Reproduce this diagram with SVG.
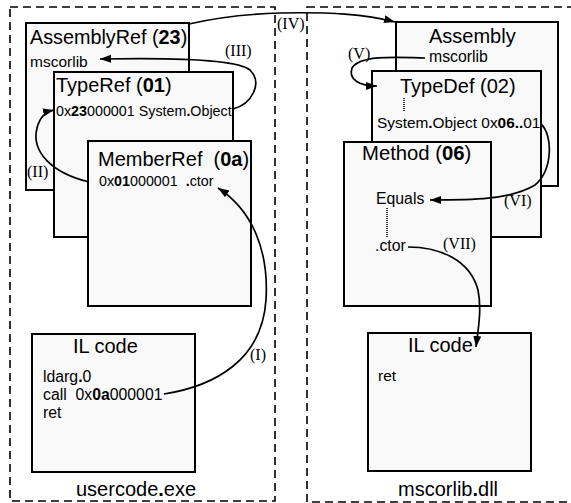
<svg xmlns="http://www.w3.org/2000/svg" width="571" height="503" viewBox="0 0 571 503">
  <defs>
    <marker id="arrow" markerUnits="userSpaceOnUse" markerWidth="12" markerHeight="10" refX="11" refY="4" orient="auto">
      <path d="M0,0 L11,4 L0,8 Z" fill="#000"/>
    </marker>
    <style>
      .module { fill: none; stroke: #000; stroke-width: 1.6; stroke-dasharray: 8 5; }
      .box { fill: #f9f9f9; stroke: #000; stroke-width: 2; }
      text { font-family: "Liberation Sans", Arial, sans-serif; fill: #000; white-space: pre; }
      .title { font-size: 20px; }
      .body { font-size: 15px; }
      .lbl { font-family: "Liberation Serif", "Times New Roman", serif; font-size: 16px; }
      .link { fill: none; stroke: #000; stroke-width: 1.7; marker-end: url(#arrow); }
      .dots { fill: none; stroke: #000; stroke-width: 1.6; stroke-dasharray: 1 1; }
      .b { font-weight: bold; }
    </style>
  </defs>

  <rect width="571" height="503" fill="#fff"/>

  <!-- module frames -->
  <g id="usercode-exe">
    <rect class="module" x="10" y="7" width="265" height="494"/>
    <text class="title" x="76" y="496">usercode<tspan class="b">.</tspan>exe</text>
  </g>
  <g id="mscorlib-dll">
    <rect class="module" x="307" y="7" width="266" height="495"/>
    <text class="title" x="398" y="496">mscorlib<tspan class="b">.</tspan>dll</text>
  </g>

  <!-- usercode.exe metadata tables -->
  <g id="assemblyref">
    <rect class="box" x="26" y="23" width="163" height="167"/>
    <text x="30" y="44" style="font-size:19.8px">AssemblyRef (<tspan class="b">23</tspan>)</text>
    <text class="body" x="30" y="67" style="font-size:15.5px">mscorlib</text>
  </g>
  <g id="typeref">
    <rect class="box" x="54" y="72" width="179" height="165"/>
    <text class="title" x="56" y="92">TypeRef (<tspan class="b">01</tspan>)</text>
    <text class="body" x="56" y="116" style="font-size:14.3px">0x<tspan class="b">23</tspan>000001 System<tspan class="b">.</tspan>Object</text>
  </g>
  <g id="memberref">
    <rect class="box" x="88" y="141" width="163" height="165"/>
    <text class="title" x="98" y="166">MemberRef&#160; (<tspan class="b">0a</tspan>)</text>
    <text class="body" x="99" y="186" style="font-size:14.3px">0x<tspan class="b">01</tspan>000001&#160; <tspan class="b">.</tspan>ctor</text>
  </g>
  <g id="il-user">
    <rect class="box" x="32" y="334" width="163" height="138"/>
    <text class="title" x="73" y="353">IL code</text>
    <text class="body" x="43" y="382" style="font-size:15.8px">ldarg<tspan class="b">.</tspan>0</text>
    <text class="body" x="43" y="400" style="font-size:15.8px">call&#160; 0x<tspan class="b">0a</tspan>000001</text>
    <text class="body" x="43" y="418" style="font-size:15.8px">ret</text>
  </g>

  <!-- mscorlib.dll metadata tables -->
  <g id="assembly">
    <rect class="box" x="396" y="22" width="162" height="164"/>
    <text class="title" x="429" y="43">Assembly</text>
    <text class="body" x="429" y="62" style="font-size:15.8px">mscorlib</text>
  </g>
  <g id="typedef">
    <rect class="box" x="372" y="71" width="169" height="166"/>
    <text class="title" x="400" y="93">TypeDef (02)</text>
    <path class="dots" d="M404,98 V112"/>
    <text class="body" x="377" y="128" style="font-size:15.4px">System<tspan class="b">.</tspan>Object 0x<tspan class="b">06..</tspan>01</text>
  </g>
  <g id="method">
    <rect class="box" x="344" y="142" width="147" height="164"/>
    <text x="362" y="160" style="font-size:20.3px">Method (<tspan class="b">06</tspan>)</text>
    <text class="body" x="376" y="204" style="font-size:15.8px">Equals</text>
    <path class="dots" d="M387,208 V238"/>
    <text class="body" x="375" y="251" style="font-size:15.8px">.ctor</text>
  </g>
  <g id="il-mscorlib">
    <rect class="box" x="368" y="333" width="163" height="138"/>
    <text class="title" x="408" y="352">IL code</text>
    <text class="body" x="378" y="381" style="font-size:15.5px">ret</text>
  </g>

  <!-- token resolution steps -->
  <g id="connectors">
    <path class="link" d="M164,394 C215,386 262,360 266,300 C269,250 252,210 218,188"/>
    <path class="link" d="M89,182 C52,173 31,152 37,128 C40,117 45,112 54,110"/>
    <path class="link" d="M233,109 C252,104 263,83 250,70 C236,58 150,58 100,59"/>
    <path class="link" d="M189,24 C215,18 250,14 280,13 C330,12 365,14 395,22"/>
    <path class="link" d="M425,58 C395,57 360,55 352,68 C348,80 360,86 377,86"/>
    <path class="link" d="M541,124 C553,135 553,170 535,185 C510,200 470,200 430,200"/>
    <path class="link" d="M408,247 C440,247 470,260 478,290 C482,310 478,330 476,347"/>
    <text class="lbl" x="250" y="360">(I)</text>
    <text class="lbl" x="27" y="177">(II)</text>
    <text class="lbl" x="225" y="56">(III)</text>
    <text class="lbl" x="277" y="29">(IV)</text>
    <text class="lbl" x="348" y="59">(V)</text>
    <text class="lbl" x="504" y="206">(VI)</text>
    <text class="lbl" x="443" y="249">(VII)</text>
  </g>
</svg>
